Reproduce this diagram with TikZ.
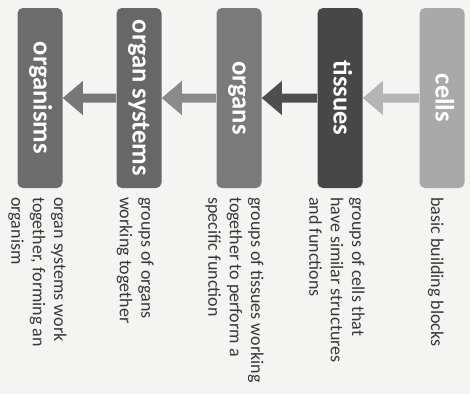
\documentclass[tikz,border=0pt]{standalone}
\usepackage{fontspec}
\setmainfont{Carlito}
\usetikzlibrary{calc}
\definecolor{bg}{HTML}{F4F4F2}
\definecolor{cellc}{HTML}{A9A9A9}
\definecolor{tissc}{HTML}{474747}
\definecolor{orgc}{HTML}{7A7A7A}
\definecolor{sysc}{HTML}{676767}
\definecolor{orgmc}{HTML}{6C6C6C}
\definecolor{arrA}{HTML}{B5B5B5}
\definecolor{arrB}{HTML}{4E4E4E}
\definecolor{arrC}{HTML}{8A8A8A}
\definecolor{arrD}{HTML}{777777}
\definecolor{desctext}{HTML}{383838}
\newcommand\myarrow[3]{%
  \fill[#1] (#3.east) -- ($(#3.east)+(20,-17)$) -- ($(#3.east)+(20,-4.5)$)
    -- ($(#2.west)+(0,-4.5)$) -- ($(#2.west)+(0,4.5)$)
    -- ($(#3.east)+(20,4.5)$) -- ($(#3.east)+(20,17)$) -- cycle;}
\begin{document}
\begin{tikzpicture}[x=0.75pt,y=-0.75pt,
  box/.style={rounded corners=4pt, minimum width=33.75pt, minimum height=135pt,
    inner sep=0pt, text=white, font=\fontsize{19.9}{24}\selectfont\bfseries},
  desc/.style={rotate=-90, anchor=north west, align=left, inner sep=0pt,
    text=desctext, font=\fontsize{13.5}{16.1}\selectfont}]
\fill[bg] (0,0) rectangle (470,394);
\useasboundingbox (0,0) rectangle (470,394);
\node[box, fill=cellc] (cells) at (442,98) {\rotatebox{-90}{\strut cells}};
\node[box, fill=tissc] (tissues) at (340,98) {\rotatebox{-90}{\strut tissues}};
\node[box, fill=orgc] (organs) at (239,98) {\rotatebox{-90}{\strut organs}};
\node[box, fill=sysc] (systems) at (139,98) {\rotatebox{-90}{\strut organ systems}};
\node[box, fill=orgmc] (organisms) at (40,98) {\rotatebox{-90}{\strut organisms}};
\myarrow{arrA}{cells}{tissues}
\myarrow{arrB}{tissues}{organs}
\myarrow{arrC}{organs}{systems}
\myarrow{arrD}{systems}{organisms}
\node[desc] (dcells) at (444,197) {basic building blocks};
\node[desc] (dtissues) at (365,197) {groups of cells that\\have similar structures\\and functions};
\node[desc] (dorgans) at (264,197) {groups of tissues working\\together to perform a\\specific function};
\node[desc] (dsystems) at (154,197) {groups of organs\\working together};
\node[desc] (dorganisms) at (67,197) {organ systems work\\together, forming an\\organism};
\end{tikzpicture}
\end{document}
